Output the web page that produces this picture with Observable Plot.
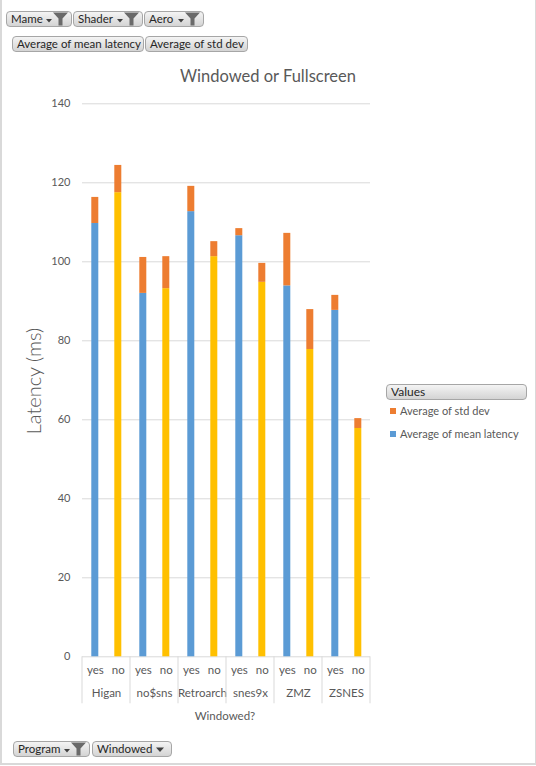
<!DOCTYPE html>
<html>
<head>
<meta charset="utf-8">
<script src="https://cdn.jsdelivr.net/npm/d3@7"></script>
<script src="https://cdn.jsdelivr.net/npm/@observablehq/plot@0.6"></script>
<style>
  body { margin: 0; background: #fff; font-family: Lato, "Liberation Sans", sans-serif; }
  #page { position: relative; width: 536px; height: 766px; overflow: hidden; }
  #frame { position: absolute; left: 0; top: 0; width: 533px; height: 763px;
    border-left: 2px solid #d9d9d9; border-right: 2px solid #d9d9d9; border-bottom: 2px solid #d9d9d9; }
  #chart { position: absolute; left: 0; top: 0; }
  .btn { position: absolute; height: 15px; box-sizing: border-box; border: 1px solid #a6a6a6; border-radius: 4px;
    background: linear-gradient(#f4f4f4, #d4d4d4); font-size: 11.5px; color: #262626; line-height: 14px;
    padding-left: 4px; white-space: nowrap; }
  .btn svg { position: absolute; top: -1px; }
  .title { position: absolute; left: 0; width: 536px; text-align: center; top: 66px; font-size: 16.5px; color: #595959; }
  .ylab { position: absolute; left: 33px; top: 381px; transform: translate(-50%, -50%) rotate(-90deg);
    font-size: 20px; color: #595959; font-weight: 300; white-space: nowrap; }
  .xlab { position: absolute; left: 225px; top: 709px; transform: translateX(-50%); font-size: 11.5px; color: #595959; }
  .leg { position: absolute; left: 390px; font-size: 11px; color: #595959; white-space: nowrap; }
  .leg span { display: inline-block; width: 6px; height: 6px; margin-right: 4px; vertical-align: 1px; }
</style>
</head>
<body>
<div id="page">
  <div id="frame"></div>
  <div id="chart"></div>
</div>
<script>
const programs = ["Higan", "no$sns", "Retroarch", "snes9x", "ZMZ", "ZSNES"];
const windowed = ["yes", "no"];
// (ms)
const meanYes = [109.7, 92.0, 112.7, 106.6, 93.9, 87.7];
const stdYes = [6.6, 9.1, 6.4, 1.8, 13.3, 3.8];
const meanNo = [117.5, 93.2, 101.3, 94.8, 77.8, 57.8];
const stdNo = [6.9, 8.1, 3.8, 4.8, 10.1, 2.5];
const yTicks = [0, 20, 40, 60, 80, 100, 120, 140];

const seriesNames = ["Average of mean latency", "Average of std dev"];
const topFilters = ["Mame", "Shader", "Aero"];
const bottomFilters = ["Program", "Windowed"];

const rows = [];
programs.forEach((p, i) => {
  rows.push({program: p, windowed: "yes", series: "mean", value: meanYes[i]});
  rows.push({program: p, windowed: "no", series: "mean", value: meanNo[i]});
});
programs.forEach((p, i) => {
  rows.push({program: p, windowed: "yes", series: "std", value: stdYes[i]});
  rows.push({program: p, windowed: "no", series: "std", value: stdNo[i]});
});

const barColor = d => d.series === "std" ? "#ED7D31" : (d.windowed === "yes" ? "#5B9BD5" : "#FFC000");

const plot = Plot.plot({
  width: 536,
  height: 766,
  marginTop: 103.3,
  marginBottom: 109.7,
  marginLeft: 80.7,
  marginRight: 165.3,
  style: {fontFamily: "Lato, sans-serif", fontSize: "11px", color: "#595959", background: "transparent"},
  fx: {domain: programs, paddingInner: 0, paddingOuter: 0, axis: null, label: null},
  x: {domain: windowed, paddingInner: 0.71, paddingOuter: 0.355, axis: null, label: null},
  y: {domain: [0, 140], axis: null, label: null},
  marks: [
    Plot.ruleY(yTicks, {stroke: "#d9d9d9", strokeWidth: 1}),
    Plot.axisY(yTicks, {tickSize: 0, tickPadding: 12, label: null, fontSize: 11, fill: "#595959"}),
    Plot.barY(rows, Plot.stackY({fx: "program", x: "windowed", y: "value", fill: barColor})),
    Plot.text(rows.filter(d => d.series === "mean"), {fx: "program", x: "windowed", text: "windowed",
      frameAnchor: "bottom", dy: 17, fontSize: 11.5, fill: "#595959"}),
    Plot.text(programs, {fx: d => d, text: d => d, frameAnchor: "bottom", dy: 40, fontSize: 11.5, fill: "#595959"})
  ]
});
document.querySelector("#chart").append(plot);

// category separators under the axis, placed with the fx scale
const fx = plot.scale("fx");
const y = plot.scale("y");
const edges = programs.map(p => fx.apply(p)).concat([fx.apply(programs[programs.length - 1]) + fx.bandwidth]);
const y0 = y.apply(0);
d3.select(plot).append("g")
  .attr("stroke", "#d9d9d9")
  .selectAll("line").data(edges).join("line")
  .attr("x1", d => d).attr("x2", d => d)
  .attr("y1", y0).attr("y2", y0 + 47);

const page = document.querySelector("#page");
function addDiv(cls, html, style) {
  const el = document.createElement("div");
  el.className = cls;
  el.innerHTML = html;
  Object.assign(el.style, style || {});
  page.append(el);
  return el;
}

const funnel = `<svg width="26" height="16" viewBox="0 0 26 16"><path d="M2 8h6l-3 3.5z" fill="#404040"/><path d="M9 1.5h15l-5.5 6v7h-4v-7z" fill="#6a6a6a"/></svg>`;
const arrow = `<svg width="14" height="16" viewBox="0 0 14 16"><path d="M3 6.5h8l-4 4.5z" fill="#404040"/></svg>`;

const topX = [[6, 66], [73, 70], [144, 60]];
topFilters.forEach((t, i) => {
  const b = addDiv("btn", t + funnel, {left: topX[i][0] + "px", top: "11px", width: topX[i][1] + "px", height: "16px"});
  b.querySelector("svg").style.right = "1px";
});
const valX = [[12, 132], [145, 103]];
seriesNames.forEach((t, i) => {
  addDiv("btn", t, {left: valX[i][0] + "px", top: "36px", width: valX[i][1] + "px", height: "16px"});
});
const b1 = addDiv("btn", bottomFilters[0] + funnel, {left: "13px", top: "741px", width: "77px", height: "16px"});
b1.querySelector("svg").style.right = "1px";
const b2 = addDiv("btn", bottomFilters[1] + arrow, {left: "92px", top: "741px", width: "80px", height: "16px"});
b2.querySelector("svg").style.right = "4px";

addDiv("title", "Windowed or Fullscreen");
addDiv("ylab", "Latency (ms)");
addDiv("xlab", "Windowed?");
addDiv("btn", "Values", {left: "386px", top: "384px", width: "141px", height: "16px", fontSize: "12px"});
addDiv("leg", `<span style="background:#ED7D31"></span>${seriesNames[1]}`, {top: "404px"});
addDiv("leg", `<span style="background:#5B9BD5"></span>${seriesNames[0]}`, {top: "427px"});
</script>
</body>
</html>
